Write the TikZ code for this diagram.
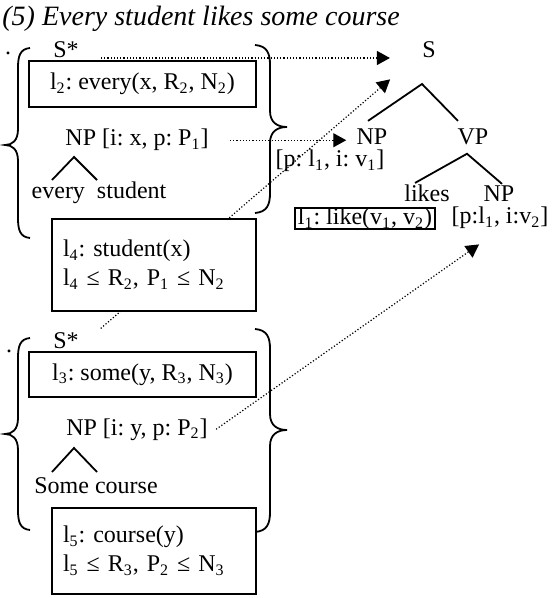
\documentclass[tikz,border=0pt]{standalone}
\usepackage{fontspec}
\setmainfont{Liberation Serif}
\usepackage{tikz}
\usetikzlibrary{arrows.meta}
\frenchspacing
\newcommand{\subs}[1]{\textsubscript{#1}}
\tikzset{
    txt/.style={font=\fontsize{12}{14.5}\selectfont, inner sep=4pt},
    frame/.style={style=txt, draw, line width=1pt, fill=white},
    sembox/.style={style=frame, minimum width=113.5pt, minimum height=23pt}, % quantifier boxes
    conbox/.style={style=frame, align=left, text width=91pt, inner xsep=5.5pt, minimum height=46pt}, % restriction boxes
    tightbox/.style={style=frame, inner xsep=1.5pt, inner ysep=0.2pt, text height=8.2pt, text depth=2.2pt},
    branch/.style={line width=0.9pt},
    curly/.style={line width=0.9pt},
    link/.style={densely dotted, line width=0.6pt, -{Triangle[length=6.5pt, width=7pt]}} % substitution links
}
% curly braces: x of the two ends, top, tip, bottom
\newcommand{\curlyleft}[4]{%
  \draw[curly] (#1,#2) .. controls ({#1-10},{#2+1}) and ({#1-12},{#2+8}) .. ({#1-12},{#2+20}) -- ({#1-12},{#3-16})
    .. controls ({#1-12},{#3-4}) and ({#1-18},#3) .. ({#1-25},#3) .. controls ({#1-18},#3) and ({#1-12},{#3+4}) .. ({#1-12},{#3+16})
    -- ({#1-12},{#4-20}) .. controls ({#1-12},{#4-8}) and ({#1-10},{#4-1}) .. (#1,#4);}
\newcommand{\curlyright}[4]{%
  \draw[curly] (#1,#2) .. controls ({#1+12},{#2+1}) and ({#1+15},{#2+8}) .. ({#1+15},{#2+20}) -- ({#1+15},{#3-16})
    .. controls ({#1+15},{#3-4}) and ({#1+23},#3) .. ({#1+32},#3) .. controls ({#1+23},#3) and ({#1+15},{#3+4}) .. ({#1+15},{#3+16})
    -- ({#1+15},{#4-20}) .. controls ({#1+15},{#4-8}) and ({#1+12},{#4-1}) .. (#1,#4);}

\begin{document}
\begin{tikzpicture}[x=0.5pt, y=-0.5pt]
    \useasboundingbox (0,0) rectangle (551,598);
    \node[txt, anchor=base west, inner sep=0pt, font=\fontsize{14}{16}\selectfont\itshape] (title) at (2,26) {(5) Every student likes some course};

    % first elementary tree set
    \node[txt, anchor=base] (dot1) at (8,55) {.};
    \node[txt, anchor=base] (sstar1) at (66,58) {S*};
    \node[sembox] (every) at (142.5,84) {l\subs{2}: every(x, R\subs{2}, N\subs{2})};
    \node[txt, anchor=base] (npx) at (137,146) {NP [i: x, p: P\subs{1}]};
    \coordinate (roof1) at (74,157);
    \node[txt, anchor=base] (evst) at (99,199) {every~~student};
    \draw[branch] (roof1) ++(-22,23) -- (roof1) -- ++(23,23);
    \curlyleft{30}{48}{145}{238}
    \curlyright{255}{45}{127}{213}

    % second elementary tree set
    \node[txt, anchor=base] (dot2) at (9,352) {.};
    \node[txt, anchor=base] (sstar2) at (66,348) {S*};
    \node[sembox, minimum height=22.5pt] (some) at (142.5,374.5) {l\subs{3}: some(y, R\subs{3}, N\subs{3})};
    \node[txt, anchor=base] (npy) at (137,435) {NP [i: y, p: P\subs{2}]};
    \coordinate (roof2) at (74,448);
    \node[txt, anchor=base] (soco) at (96,493) {Some course};
    \draw[branch] (roof2) ++(-22,24) -- (roof2) -- ++(23,24);
    \curlyleft{30}{338}{434}{530}
    \curlyright{255}{329}{430}{532}

    % verb tree
    \node[txt, anchor=base] (S) at (429,58) {S};
    \coordinate (S-root) at (422,84);
    \node[txt, anchor=base] (np1) at (372,145) {NP};
    \node[txt, anchor=base] (vp1) at (473,145) {VP};
    \node[txt, anchor=base] (pv1) at (330,167) {[p: l\subs{1}, i: v\subs{1}]};
    \node[txt, anchor=base] (likes) at (427,202) {likes};
    \node[txt, anchor=base] (np2) at (499,202) {NP};
    \node[tightbox] (like) at (365,218.5) {l\subs{1}: like(v\subs{1}, v\subs{2})};
    \node[txt, anchor=base] (pv2) at (500,224) {[p:l\subs{1}, i:v\subs{2}]};
    \draw[branch] ([xshift=-2pt]np1.north) -- (S-root) -- ([xshift=-7.5pt]vp1.north);
    \draw[branch] ([xshift=-6pt, yshift=-3pt]likes.north) -- ([xshift=-3pt]vp1.south) -- ([xshift=1.5pt, yshift=-3pt]np2.north);

    % links
    \draw[link, shorten <=7pt, shorten >=12pt] (sstar1.base east) -- (S.base west);
    \draw[link, shorten <=6.5pt, shorten >=1pt] (npx.east) -- (np1.west |- npx.east);
    \draw[link, shorten <=9pt, shorten >=15.7pt] (sstar2.east) -- (S.210);
    \draw[link, shorten >=6pt] (npy.east) -- (pv2.240);

    % restriction boxes on top of the links
    \node[conbox] (student) at (154,265) {l\subs{4}: student(x)\\l\subs{4} ≤ R\subs{2}, P\subs{1} ≤ N\subs{2}};
    \node[conbox, minimum height=43pt] (course) at (154,551) {l\subs{5}: course(y)\\l\subs{5} ≤ R\subs{3}, P\subs{2} ≤ N\subs{3}};
\end{tikzpicture}
\end{document}
